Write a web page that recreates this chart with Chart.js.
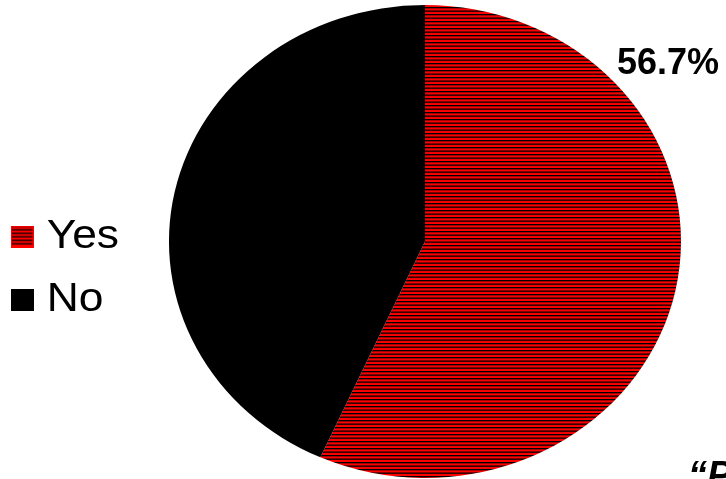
<!DOCTYPE html>
<html>
<head>
<meta charset="utf-8">
<script src="https://cdn.jsdelivr.net/npm/chart.js@4.4.1/dist/chart.umd.min.js"></script>
<style>
  html, body { margin: 0; padding: 0; background: #ffffff; overflow: hidden; }
  #wrap { position: relative; width: 726px; height: 479px; overflow: hidden; }
  canvas { display: block; }
</style>
</head>
<body>
<div id="wrap"><canvas id="c" width="730" height="479"></canvas></div>
<script>
// ---- data ----
const categories = ['Yes', 'No'];
const shares = [56.7, 43.3];
const labelledSlice = 0;          // slice whose percentage is printed
const cutText = '\u201CP';        // clipped text at bottom right

// ---- styles ----
const ASPECT = 1.0825;            // source picture is stretched horizontally
const FONT = "'Liberation Sans', Arial, Helvetica, sans-serif";

function stripePattern(g) {
  const cv = document.createElement('canvas');
  cv.width = 8; cv.height = 7;
  const p = cv.getContext('2d');
  p.fillStyle = '#FF0000';
  p.fillRect(0, 0, 8, 7);
  p.fillStyle = '#000000';
  p.fillRect(0, 0, 8, 1.3);
  p.fillRect(0, 3.5, 8, 1.3);
  return g.createPattern(cv, 'repeat');
}
const ctx0 = document.getElementById('c').getContext('2d');
const redStripes = stripePattern(ctx0);
const sliceFills = [redStripes, '#000000'];
const sliceEdges = ['#FF0000', '#000000'];

// legend swatches as small images
function swatch(fill, edge) {
  const cv = document.createElement('canvas');
  cv.width = 21; cv.height = 22;
  const g = cv.getContext('2d');
  g.fillStyle = fill === redStripes ? stripePattern(g) : fill;
  g.fillRect(0, 0, 21, 22);
  g.strokeStyle = edge;
  g.lineWidth = 1;
  g.strokeRect(0.5, 0.5, 20, 21);
  return cv;
}
const swatches = sliceFills.map((f, i) => swatch(f, sliceEdges[i]));

Chart.defaults.font.family = FONT;
Chart.defaults.color = '#000000';

const stretchPlugin = {
  id: 'stretch',
  beforeDraw(chart) {
    const c = chart.ctx;
    c.save();
    c.scale(ASPECT, 1);             // legend drawn stretched like the source
  },
  beforeDatasetsDraw(chart) {
    const c = chart.ctx;
    c.restore();
    const arc = chart.getDatasetMeta(0).data[0];
    c.save();
    c.translate(arc.x, 0);
    c.scale(ASPECT, 1);
    c.translate(-arc.x, 0);
  },
  afterDatasetsDraw(chart) { chart.ctx.restore(); }
};

const textPlugin = {
  id: 'texts',
  afterDraw(chart) {
    const c = chart.ctx;
    const vals = chart.data.datasets[0].data;
    const total = vals.reduce((a, b) => a + b, 0);
    const pct = (vals[labelledSlice] / total * 100).toFixed(1) + '%';
    c.save();
    c.fillStyle = '#000000';
    c.textAlign = 'left';
    c.textBaseline = 'alphabetic';
    c.font = 'bold 36px ' + FONT;
    c.fillText(pct, 617, 73.5);
    c.font = 'italic bold 38px ' + FONT;
    c.fillText(cutText, 688, 488);
    c.restore();
  }
};

new Chart(ctx0, {
  type: 'pie',
  data: {
    labels: categories,
    datasets: [{
      data: shares,
      backgroundColor: sliceFills,
      borderWidth: 0,
      clip: false
    }]
  },
  options: {
    responsive: false,
    animation: false,
    rotation: 0,
    layout: { padding: { left: -3.4, right: 0, top: 5, bottom: 1 } },
    plugins: {
      tooltip: { enabled: false },
      legend: {
        position: 'left',
        align: 'center',
        title: { display: true, text: '', font: { size: 1 }, padding: { top: 52, bottom: 0 } },
        labels: {
          usePointStyle: true,
          pointStyleWidth: 4,
          boxHeight: 22,
          padding: 22,
          color: '#000000',
          font: { size: 41, family: FONT },
          generateLabels(chart) {
            const items = Chart.overrides.pie.plugins.legend.labels.generateLabels(chart);
            items.forEach((it, i) => { it.pointStyle = swatches[i]; it.lineWidth = 0; });
            return items;
          }
        }
      }
    }
  },
  plugins: [stretchPlugin, textPlugin]
});
</script>
</body>
</html>
